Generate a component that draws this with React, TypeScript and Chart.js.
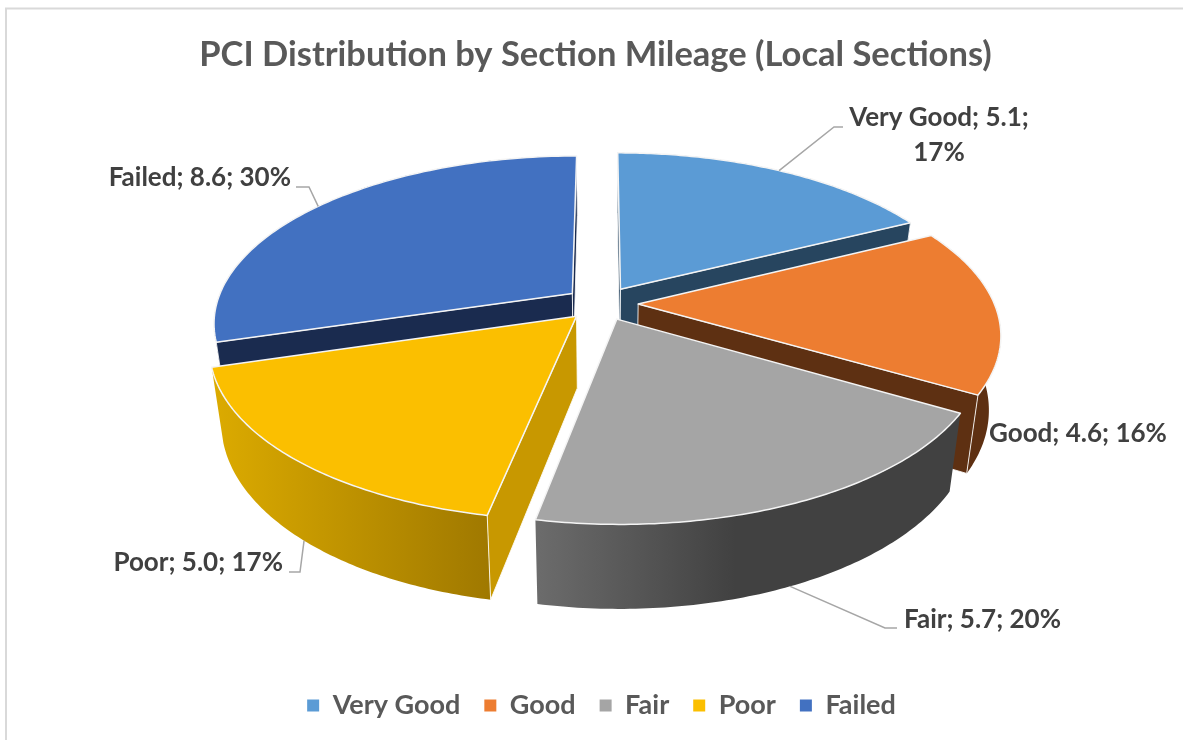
import React, { useEffect, useRef } from "react";
import { Chart, registerables } from "chart.js";

Chart.register(...registerables);

const categories = ["Very Good", "Good", "Fair", "Poor", "Failed"];
const mileage = [5.1, 4.6, 5.7, 5.0, 8.6];
const sharePercents = [17, 16, 20, 17, 30];

const topColors = ["#5B9BD5", "#ED7D31", "#A5A5A5", "#FBBF00", "#4271C1"];
const faceColors = ["#27455F", "#5E3012", "#404040", "#C89800", "#1A2B4F"];
const rimShades = [
  ["#27455F", "#27455F", 1],
  ["#5E3012", "#5E3012", 1],
  ["#6C6C6C", "#414141", 0.47],
  ["#DCAB00", "#A07900", 1],
  ["#1A2B4F", "#1A2B4F", 1],
];
// Slices are painted from the back of the disc to the front.
const paintOrder = [4, 0, 1, 3, 2];

// Callout text placement and leader bends, by slice.
const calloutLines = [
  { x: 939, y: 118, align: "center", bend: [[834, 127], [843, 127]] },
  { x: 989, y: 434, align: "left", bend: null },
  { x: 904, y: 620, align: "left", bend: [[885, 628], [897, 628]] },
  { x: 283, y: 563, align: "right", bend: [[300, 572], [289, 572]] },
  { x: 291, y: 178, align: "right", bend: [[309, 187], [296, 187]] },
];

// Perspective view of the disc.
const RADIUS_X = 356;
const RADIUS_Y = 164.2;
const PERSPECTIVE = 0.171;
const EXPLODE = 0.103;
const DEPTH_BASE = 72;
const DEPTH_FRONT = 12.5;
const BOTTOM_SCALE = 0.97;
const LIFT = -79;

const FONT = "Lato, 'Open Sans', sans-serif";

const view = (u: number, v: number) => {
  const w = 1 - PERSPECTIVE * v;
  return [(RADIUS_X * u) / w, (RADIUS_Y * v) / w];
};

function sliceGeometry(arc: any) {
  const cx = arc.x;
  const cy = arc.y + LIFT;
  const mid = (arc.startAngle + arc.endAngle) / 2;
  const du = EXPLODE * Math.cos(mid);
  const dv = EXPLODE * Math.sin(mid);
  const place = (u: number, v: number) => {
    const p = view(u + du, v + dv);
    return [cx + p[0], cy + p[1]];
  };
  const apex = place(0, 0);
  const top = (a: number) => place(Math.cos(a), Math.sin(a));
  const drop = (p: number[], v: number) => [
    cx + (p[0] - cx) * BOTTOM_SCALE,
    p[1] + DEPTH_BASE + DEPTH_FRONT * v,
  ];
  const bottom = (a: number) => drop(top(a), Math.sin(a));
  return { cx, cy, mid, apex, top, bottom, apexBottom: drop(apex, 0) };
}

function polygon(ctx: CanvasRenderingContext2D, pts: number[][]) {
  ctx.beginPath();
  pts.forEach((p, i) => (i ? ctx.lineTo(p[0], p[1]) : ctx.moveTo(p[0], p[1])));
  ctx.closePath();
}

function sweep(start: number, end: number) {
  const steps = 90;
  const out: number[] = [];
  for (let i = 0; i <= steps; i++) out.push(start + ((end - start) * i) / steps);
  return out;
}

const tiltedPie = {
  id: "tiltedPie",
  afterLayout(chart: any) {
    chart.titleBlock.left -= 6;
    chart.titleBlock.right -= 6;
    chart.legend.top -= 11;
    chart.legend.bottom -= 11;
  },
  beforeDraw(chart: any) {
    const ctx = chart.ctx;
    ctx.save();
    ctx.strokeStyle = "#D9D9D9";
    ctx.lineWidth = 2;
    ctx.strokeRect(6, 8.5, 1400, 1000);
    ctx.restore();
  },
  beforeDatasetDraw(chart: any) {
    const ctx: CanvasRenderingContext2D = chart.ctx;
    const arcs = chart.getDatasetMeta(0).data;
    ctx.save();
    ctx.lineJoin = "round";
    for (const i of paintOrder) {
      const g = sliceGeometry(arcs[i]);
      const angles = sweep(arcs[i].startAngle, arcs[i].endAngle);
      const rim = angles.map(g.top);
      const base = angles.map(g.bottom);

      // Curved outer wall, shaded across its width.
      const xs = rim.map((p) => p[0]);
      const shade = rimShades[i] as [string, string, number];
      const grad = ctx.createLinearGradient(Math.min(...xs), 0, Math.max(...xs), 0);
      grad.addColorStop(0, shade[0]);
      grad.addColorStop(shade[2], shade[1]);
      if (shade[2] < 1) grad.addColorStop(1, shade[1]);
      polygon(ctx, [...rim, ...base.slice().reverse()]);
      ctx.fillStyle = grad;
      ctx.fill();

      // Cut faces that turn toward the viewer.
      const faces = [
        { a: arcs[i].startAngle, normal: -Math.cos(arcs[i].startAngle) },
        { a: arcs[i].endAngle, normal: Math.cos(arcs[i].endAngle) },
      ];
      for (const f of faces) {
        if (f.normal < -0.001) continue;
        polygon(ctx, [g.apex, g.top(f.a), g.bottom(f.a), g.apexBottom]);
        ctx.fillStyle = faceColors[i];
        ctx.fill();
        ctx.strokeStyle = "rgba(255,255,255,0.85)";
        ctx.lineWidth = 1;
        ctx.stroke();
      }

      // Top surface.
      polygon(ctx, [g.apex, ...rim]);
      ctx.fillStyle = topColors[i];
      ctx.fill();
      ctx.strokeStyle = "#F4F4F4";
      ctx.lineWidth = 1.5;
      ctx.stroke();
    }
    ctx.restore();
    return false;
  },
  afterDatasetsDraw(chart: any) {
    const ctx: CanvasRenderingContext2D = chart.ctx;
    const arcs = chart.getDatasetMeta(0).data;
    ctx.save();
    ctx.font = `bold 26px ${FONT}`;
    ctx.fillStyle = "#404040";
    ctx.textBaseline = "middle";
    categories.forEach((name, i) => {
      const spot = calloutLines[i];
      const g = sliceGeometry(arcs[i]);
      if (spot.bend) {
        const from = Math.sin(g.mid) > 0 ? g.bottom(g.mid) : g.top(g.mid);
        ctx.beginPath();
        ctx.moveTo(from[0], from[1]);
        spot.bend.forEach((p) => ctx.lineTo(p[0], p[1]));
        ctx.strokeStyle = "#A6A6A6";
        ctx.lineWidth = 1.5;
        ctx.stroke();
      }
      const value = mileage[i].toFixed(1);
      const pct = `${sharePercents[i]}%`;
      ctx.textAlign = spot.align as CanvasTextAlign;
      if (i === 0) {
        ctx.fillText(`${name}; ${value};`, spot.x, spot.y);
        ctx.fillText(pct, spot.x, spot.y + 35);
      } else {
        ctx.fillText(`${name}; ${value}; ${pct}`, spot.x, spot.y);
      }
    });
    ctx.restore();
  },
};

export default function App() {
  const ref = useRef<HTMLCanvasElement>(null);
  useEffect(() => {
    const chart = new Chart(ref.current as HTMLCanvasElement, {
      type: "pie",
      data: {
        labels: categories,
        datasets: [{ data: mileage, backgroundColor: topColors, borderWidth: 0 }],
      },
      options: {
        responsive: false,
        animation: false,
        layout: { padding: { left: 20 } },
        plugins: {
          tooltip: { enabled: false },
          title: {
            display: true,
            text: "PCI Distribution by Section Mileage (Local Sections)",
            color: "#595959",
            font: { family: FONT, size: 34.5, weight: "bold" },
            padding: { top: 34.5, bottom: 10 },
          },
          legend: {
            position: "bottom",
            labels: {
              color: "#595959",
              font: { family: FONT, size: 27, weight: "bold" },
              boxWidth: 12,
              boxHeight: 12,
              padding: 24,
            },
          },
        },
      },
      plugins: [tiltedPie],
    } as any);
    return () => chart.destroy();
  }, []);
  return (
    <div style={{ position: "fixed", inset: 0, overflow: "hidden", background: "#fff" }}>
      <canvas ref={ref} width={1183} height={740} style={{ display: "block" }} />
    </div>
  );
}
